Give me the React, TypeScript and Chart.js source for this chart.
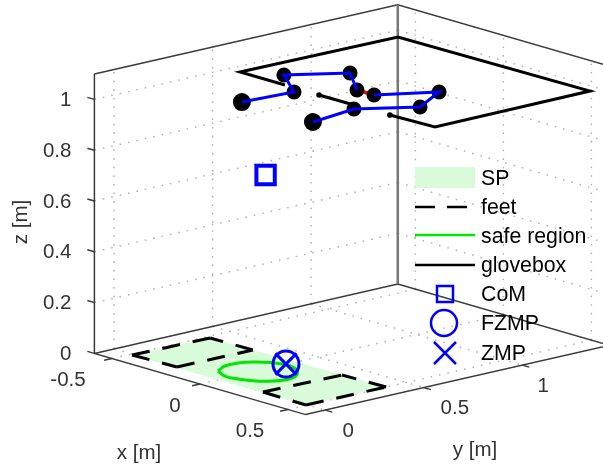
import React, { useEffect, useRef } from "react";
import { Chart, registerables } from "chart.js";

Chart.register(...registerables);

const WIDTH = 603;
const HEIGHT = 464;

// Axis limits and ticks (metres)
const xLim = [-0.6, 0.6];
const yLim = [-0.1, 1.44];
const zLim = [0, 1.1];
const xTicks = [-0.5, 0, 0.5];
const yTicks = [0, 0.5, 1];
const zTicks = [0, 0.2, 0.4, 0.6, 0.8, 1];
const xTickLabels = ["-0.5", "0", "0.5"];
const yTickLabels = ["0", "0.5", "1"];
const zTickLabels = ["0", "0.2", "0.4", "0.6", "0.8", "1"];

// Robot joints (x, y, z)
const robotX = [-0.202, -0.181, -0.393, -0.249, -0.045, 0.052, 0.182, 0.299, 0.155, 0.195];
const robotY = [0.293, 0.539, 0.677, 0.884, 0.737, 0.737, 0.951, 0.75, 0.543, 0.299];
const robotZ = [1, 1, 1, 1, 1, 1, 1, 1, 1, 1];

// Glovebox outline at z = 1
const gloveX1 = [0.311, 0.556, 0.549, -0.524, -0.536, -0.281];
const gloveY1 = [0.586, 0.596, 1.389, 1.373, 0.582, 0.582];
const gloveX2 = [-0.086, 0.112];
const gloveY2 = [0.581, 0.582];
const gloveZ = 1;

// Feet corners: left, top, right, bottom as seen in the view
const foot1X = [-0.488, -0.479, -0.24, -0.244];
const foot1Y = [-0.009, 0.379, 0.383, 0.001];
const foot2X = [0.2455, 0.257, 0.499, 0.496];
const foot2Y = [0, 0.391, 0.399, -0.005];

// Support polygon
const spX = [-0.488, -0.479, 0.499, 0.496, -0.488];
const spY = [-0.009, 0.379, 0.399, -0.005, -0.009];

// Safe region outline on the floor
const safeX = [-0.097, -0.135, -0.135, -0.108, -0.06, 0.01, 0.089, 0.153, 0.169, 0.15, 0.107, 0.04, -0.025, -0.097];
const safeY = [0.078, 0.147, 0.214, 0.266, 0.309, 0.333, 0.312, 0.251, 0.191, 0.137, 0.088, 0.057, 0.049, 0.078];

// Single points
const comPoint = [-0.178, 0.392, 0.7];
const fzmpPoint = [-0.004, 0.34, 0];
const zmpPoint = [-0.004, 0.34, 0];

const legendLabels = ["SP", "feet", "safe region", "glovebox", "CoM", "FZMP", "ZMP"];
const axisLabels = ["x [m]", "y [m]", "z [m]"];

// Fixed view of the 3D box on the picture
const project = (x: number, y: number, z: number) => ({
  x: 219.7 + 176 * x + 197 * y,
  y: 379.5 + 51 * x - 45 * y - 254 * z,
});

const path = (xs: number[], ys: number[], z: number | number[]) =>
  xs.map((x, i) => project(x, ys[i], Array.isArray(z) ? z[i] : z));

const GAP = { x: NaN, y: NaN };
const segs = (list: number[][][]) => {
  const out: { x: number; y: number }[] = [];
  list.forEach((s) => {
    s.forEach((p) => out.push(project(p[0], p[1], p[2])));
    out.push(GAP);
  });
  return out;
};

const [x0, x1] = xLim;
const [y0, y1] = yLim;
const [z0, z1] = zLim;

const gridSegs = segs([
  ...xTicks.map((x) => [[x, y0, z0], [x, y1, z0]]),
  ...yTicks.map((y) => [[x0, y, z0], [x1, y, z0]]),
  ...yTicks.map((y) => [[x0, y, z0], [x0, y, z1]]),
  ...xTicks.map((x) => [[x, y1, z0], [x, y1, z1]]),
  ...zTicks.slice(1).map((z) => [[x0, y0, z], [x0, y1, z]]),
  ...zTicks.slice(1).map((z) => [[x0, y1, z], [x1, y1, z]]),
]);

const boxSegs = segs([
  [[x0, y0, z1], [x0, y0, z0], [x1, y0, z0], [x1, y1, z0], [x0, y1, z0], [x0, y0, z0]],
  [[x0, y0, z1], [x0, y1, z1], [x1, y1, z1]],
]);

const TICK = 0.04;
const tickSegs = segs([
  ...xTicks.map((x) => [[x, y0, z0], [x, y0 - TICK, z0]]),
  ...yTicks.map((y) => [[x1, y, z0], [x1 + TICK, y, z0]]),
  ...zTicks.map((z) => [[x0, y0, z], [x0 - TICK, y0, z]]),
]);

// Each foot edge is its own dashed stroke, so the dashes meet at the corners
const footEdges = (xs: number[], ys: number[]) => {
  const c = xs.map((x, i) => [x, ys[i], 0]);
  return segs([[c[0], c[1]], [c[2], c[1]], [c[3], c[2]], [c[0], c[3]]]);
};

const line = (data: any[], color: string, width: number, order: number, extra: any = {}) => ({
  data,
  showLine: true,
  borderColor: color,
  backgroundColor: color,
  borderWidth: width,
  pointRadius: 0,
  order,
  ...extra,
});

const TEXT = "#333333";
const FONT = '20.5px "Liberation Sans", Arial, sans-serif';
const LEGEND_FONT = '21.3px "Liberation Sans", Arial, sans-serif';
const xLabelShift = [-44, -25, -38];
const yLabelShift = [23, 31, 21];

// Text positions for tick labels, relative to the tick's place on the box
const tickLabelPlugin = {
  id: "boxText",
  afterDatasetsDraw(chart: any) {
    const { ctx, scales } = chart;
    const px = (p: { x: number; y: number }) => ({
      x: scales.x.getPixelForValue(p.x),
      y: scales.y.getPixelForValue(p.y),
    });
    ctx.save();
    ctx.fillStyle = TEXT;
    ctx.font = FONT;
    ctx.textBaseline = "middle";
    ctx.textAlign = "right";
    zTicks.forEach((z, i) => {
      const p = px(project(x0, y0, z));
      ctx.fillText(zTickLabels[i], p.x - 23, p.y + 1);
    });
    ctx.textAlign = "center";
    xTicks.forEach((x, i) => {
      const p = px(project(x, y0, z0));
      ctx.fillText(xTickLabels[i], p.x + xLabelShift[i], p.y + 22);
    });
    yTicks.forEach((y, i) => {
      const p = px(project(x1, y, z0));
      ctx.fillText(yTickLabels[i], p.x + yLabelShift[i], p.y + 21);
    });
    ctx.fillText(axisLabels[0], 139, 453);
    ctx.fillText(axisLabels[1], 475, 450);
    ctx.save();
    ctx.translate(21, 222);
    ctx.rotate(-Math.PI / 2);
    ctx.fillText(axisLabels[2], 0, 0);
    ctx.restore();

    // Legend
    const left = 415;
    const right = 475;
    const mid = 445;
    const rows = [178, 207, 236, 265, 294, 323, 353];
    ctx.fillStyle = "#000000";
    ctx.textAlign = "left";
    ctx.font = LEGEND_FONT;
    legendLabels.forEach((t, i) => ctx.fillText(t, 481, rows[i] + 1));
    ctx.fillStyle = "#d9fbd9";
    ctx.fillRect(left, 167, right - left, 21);
    ctx.strokeStyle = "#000000";
    ctx.lineWidth = 2.5;
    ctx.setLineDash([20, 12]);
    ctx.beginPath();
    ctx.moveTo(left, rows[1]);
    ctx.lineTo(right, rows[1]);
    ctx.stroke();
    ctx.setLineDash([]);
    ctx.strokeStyle = "#00e600";
    ctx.beginPath();
    ctx.moveTo(left, rows[2] - 1);
    ctx.lineTo(right, rows[2] - 1);
    ctx.stroke();
    ctx.strokeStyle = "#000000";
    ctx.beginPath();
    ctx.moveTo(left, rows[3]);
    ctx.lineTo(right, rows[3]);
    ctx.stroke();
    ctx.strokeStyle = "#0000ff";
    ctx.lineWidth = 2.5;
    ctx.strokeRect(mid - 8, rows[4] - 8, 16, 16);
    ctx.beginPath();
    ctx.arc(mid - 1, rows[5], 13, 0, Math.PI * 2);
    ctx.stroke();
    ctx.beginPath();
    ctx.moveTo(mid - 11, rows[6] - 11);
    ctx.lineTo(mid + 11, rows[6] + 11);
    ctx.moveTo(mid + 11, rows[6] - 11);
    ctx.lineTo(mid - 11, rows[6] + 11);
    ctx.stroke();
    ctx.restore();
  },
};

export default function App() {
  const ref = useRef<HTMLCanvasElement>(null);

  useEffect(() => {
    if (!ref.current) return;
    const robot = path(robotX, robotY, robotZ);
    const chart = new Chart(ref.current, {
      type: "scatter",
      data: {
        datasets: [
          line(gridSegs, "#b4b4b4", 1.5, 20, { borderDash: [1.6, 7], label: "grid" }),
          line(path(spX, spY, 0), "#d9fbd9", 0, 18, { fill: "shape", label: legendLabels[0] }),
          line(boxSegs, "#3a3a3a", 1.5, 17, { label: "box" }),
          line(tickSegs, "#3a3a3a", 1.5, 17, { label: "ticks" }),
          line(
            [project(x0, y1, z0), project(x0, y1, z1)],
            "#777777",
            2.5,
            16,
            { label: "edge" }
          ),
          line(footEdges(foot1X, foot1Y), "#000000", 3, 15, { borderDash: [18, 13], label: legendLabels[1] }),
          line(footEdges(foot2X, foot2Y), "#000000", 3, 15, { borderDash: [18, 13], label: "feet 2" }),
          line(path(safeX, safeY, 0), "#00e600", 3, 14, { tension: 0.4, label: legendLabels[2] }),
          line(path(gloveX1, gloveY1, gloveZ), "#000000", 3, 13, { label: legendLabels[3] }),
          line(path(gloveX2, gloveY2, gloveZ), "#000000", 3, 13, { label: "glovebox 2" }),
          {
            label: "glovebox ends",
            data: [project(gloveX1[0], gloveY1[0], gloveZ), project(gloveX2[0], gloveY2[0], gloveZ)],
            pointRadius: 2.8,
            pointBackgroundColor: "#000000",
            pointBorderWidth: 0,
            order: 13,
          },
          line(robot.slice(4, 6), "#ff0000", 3.5, 12, { label: "link" }),
          {
            label: "joints",
            data: robot,
            pointRadius: [9, 7.5, 7.5, 7.5, 7.5, 7.5, 7.5, 7.5, 7.5, 9],
            pointBackgroundColor: "#000000",
            pointBorderWidth: 0,
            order: 11,
          },
          line(robot.slice(0, 5), "#0000ff", 3, 10, { label: "limbs 1" }),
          line(robot.slice(5), "#0000ff", 3, 10, { label: "limbs 2" }),
          {
            label: legendLabels[4],
            data: [project(comPoint[0], comPoint[1], comPoint[2])],
            pointStyle: "rect",
            pointRadius: 13,
            pointBorderColor: "#0000ff",
            pointBackgroundColor: "rgba(0,0,0,0)",
            pointBorderWidth: 4,
            order: 5,
          },
          {
            label: legendLabels[5],
            data: [project(fzmpPoint[0], fzmpPoint[1], fzmpPoint[2])],
            pointStyle: "circle",
            pointRadius: 13,
            pointBorderColor: "#0000ff",
            pointBackgroundColor: "rgba(0,0,0,0)",
            pointBorderWidth: 3,
            order: 4,
          },
          {
            label: legendLabels[6],
            data: [project(zmpPoint[0], zmpPoint[1], zmpPoint[2])],
            pointStyle: "crossRot",
            pointRadius: 15,
            pointBorderColor: "#0000ff",
            pointBorderWidth: 3,
            order: 3,
          },
        ] as any,
      },
      options: {
        responsive: false,
        animation: false,
        layout: { padding: 0, autoPadding: false },
        events: [],
        scales: {
          x: { type: "linear", min: 0, max: WIDTH, display: false },
          y: { type: "linear", min: 0, max: HEIGHT, reverse: true, display: false },
        },
        plugins: { legend: { display: false }, tooltip: { enabled: false } },
      } as any,
      plugins: [tickLabelPlugin],
    });
    return () => chart.destroy();
  }, []);

  return (
    <div style={{ position: "absolute", left: 0, top: 0, width: WIDTH, height: HEIGHT, overflow: "hidden" }}>
      <canvas ref={ref} width={WIDTH} height={HEIGHT} style={{ display: "block", filter: "blur(0.4px)" }} />
    </div>
  );
}
